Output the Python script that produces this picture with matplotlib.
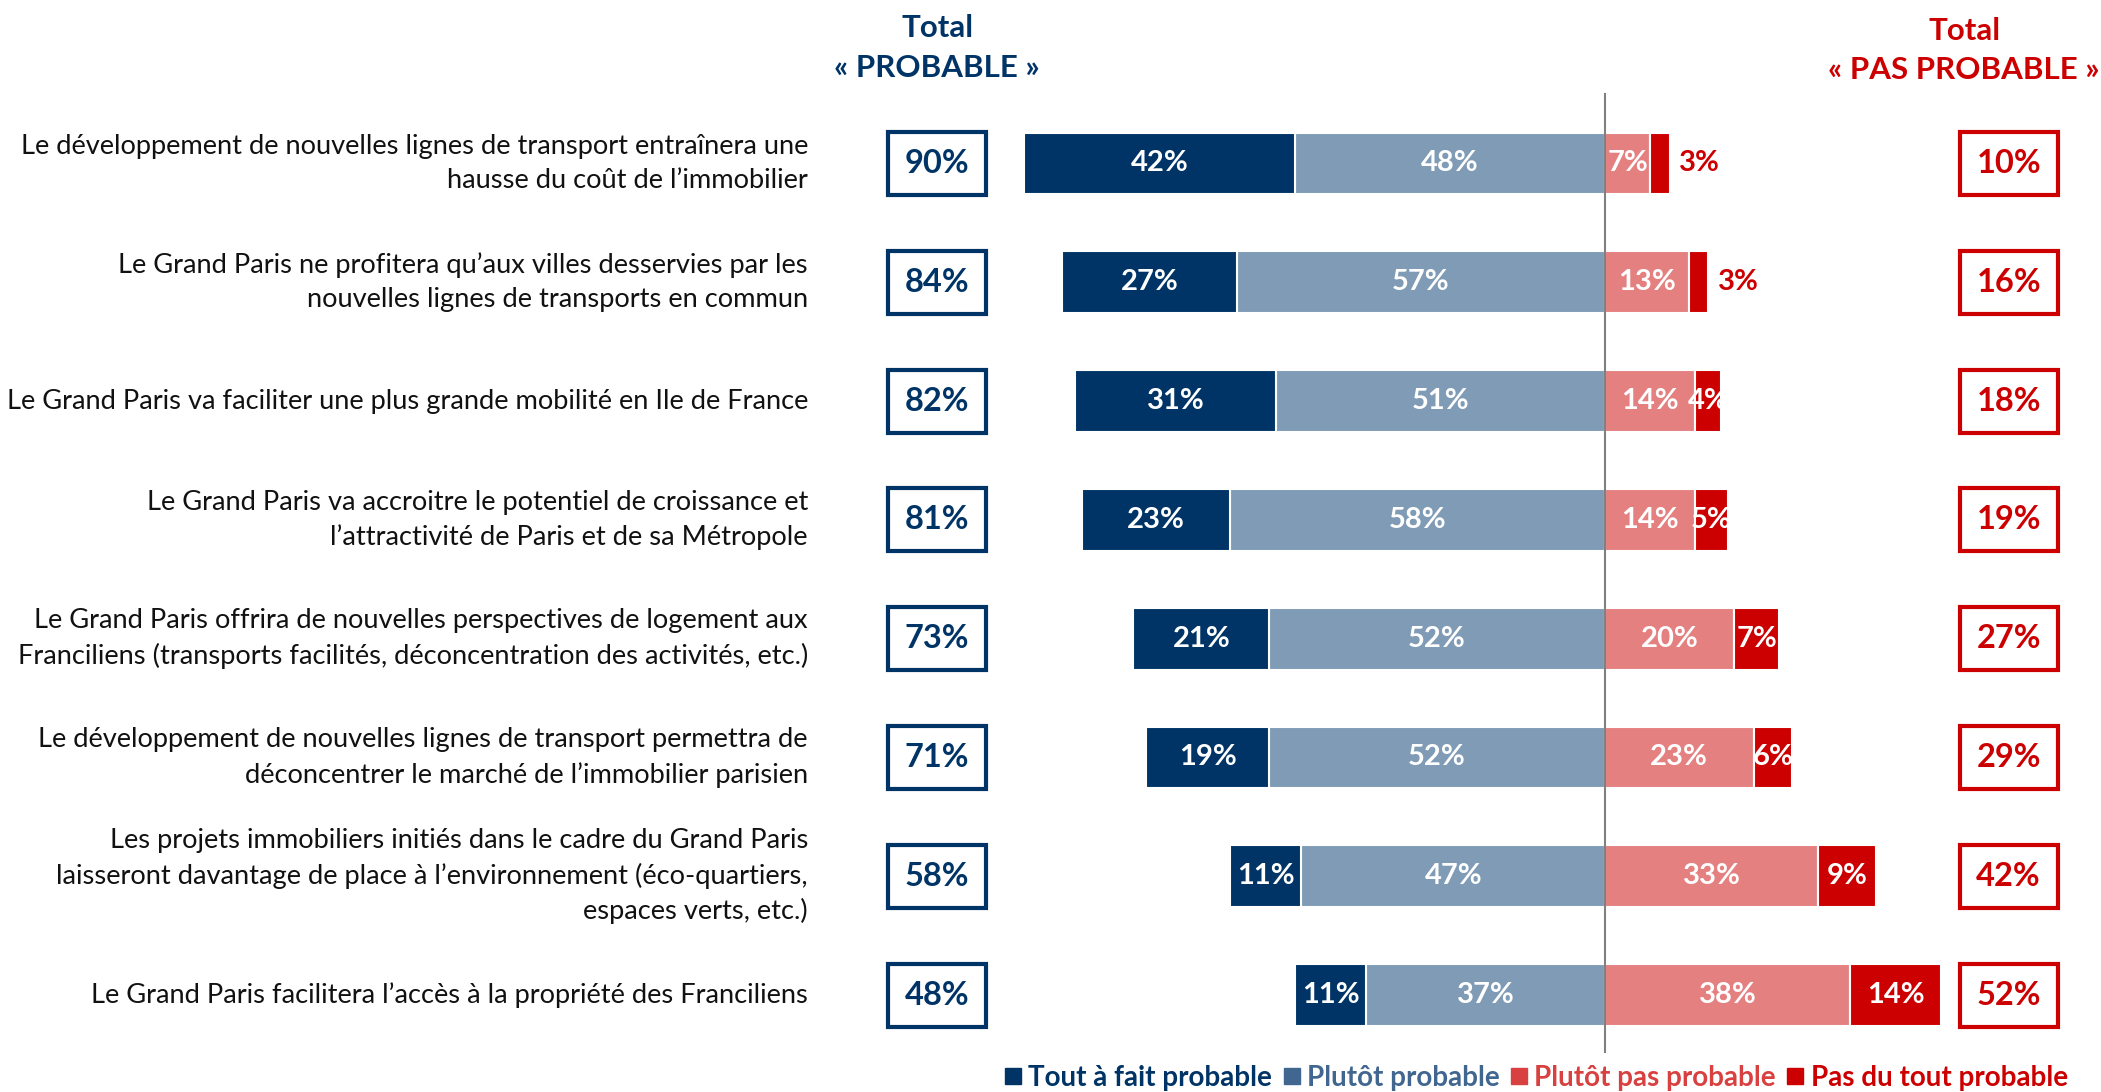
import matplotlib.pyplot as plt
from matplotlib.patches import Rectangle
from matplotlib.lines import Line2D

plt.rcParams['font.family'] = ['Lato', 'DejaVu Sans']

labels = [
    "Le développement de nouvelles lignes de transport entraînera une\nhausse du coût de l’immobilier",
    "Le Grand Paris ne profitera qu’aux villes desservies par les\nnouvelles lignes de transports en commun",
    "Le Grand Paris va faciliter une plus grande mobilité en Ile de France",
    "Le Grand Paris va accroitre le potentiel de croissance et\nl’attractivité de Paris et de sa Métropole",
    "Le Grand Paris offrira de nouvelles perspectives de logement aux\nFranciliens (transports facilités, déconcentration des activités, etc.)",
    "Le développement de nouvelles lignes de transport permettra de\ndéconcentrer le marché de l’immobilier parisien",
    "Les projets immobiliers initiés dans le cadre du Grand Paris\nlaisseront davantage de place à l’environnement (éco-quartiers,\nespaces verts, etc.)",
    "Le Grand Paris facilitera l’accès à la propriété des Franciliens",
]
tout = [42, 27, 31, 23, 21, 19, 11, 11]
plutot = [48, 57, 51, 58, 52, 52, 47, 37]
plutot_pas = [7, 13, 14, 14, 20, 23, 33, 38]
pas_du_tout = [3, 3, 4, 5, 7, 6, 9, 14]
total_prob = [90, 84, 82, 81, 73, 71, 58, 48]
total_pas = [10, 16, 18, 19, 27, 29, 42, 52]
series_names = ["Tout à fait probable", "Plutôt probable", "Plutôt pas probable", "Pas du tout probable"]

navy = '#003466'
blue = '#7f9bb5'
pink = '#e48080'
red = '#cc0000'
legend_text_colors = [navy, '#41668f', '#d94040', red]

fig = plt.figure(figsize=(21.01, 10.92), dpi=100)
ax = fig.add_axes([0, 0, 1, 1])
ax.set_xlim(-248.5, 76.8)
ax.set_ylim(7.816, -1.376)
ax.axis('off')

y = list(range(len(labels)))
h = 0.52
ax.barh(y, [-v for v in plutot], height=h, color=blue, edgecolor='white', linewidth=1.5)
ax.barh(y, [-v for v in tout], left=[-v for v in plutot], height=h, color=navy, edgecolor='white', linewidth=1.5)
ax.barh(y, plutot_pas, height=h, color=pink, edgecolor='white', linewidth=1.5)
ax.barh(y, pas_du_tout, left=plutot_pas, height=h, color=red, edgecolor='white', linewidth=1.5)

ax.plot([0, 0], [-0.585, 7.48], color='#808080', linewidth=1.5, zorder=5)

lbl = dict(ha='center', va='center', fontsize=21, fontweight='bold')
for i in y:
    ax.text(-plutot[i] - tout[i] / 2, i, f"{tout[i]}%", color='white', **lbl)
    ax.text(-plutot[i] / 2, i, f"{plutot[i]}%", color='white', **lbl)
    ax.text(plutot_pas[i] / 2, i, f"{plutot_pas[i]}%", color='white', **lbl)
    if pas_du_tout[i] <= 3:
        ax.text(plutot_pas[i] + pas_du_tout[i] + 1.5, i, f"{pas_du_tout[i]}%", color=red,
                ha='left', va='center', fontsize=21, fontweight='bold')
    else:
        ax.text(plutot_pas[i] + pas_du_tout[i] / 2, i, f"{pas_du_tout[i]}%", color='white', **lbl)

    ax.text(-123.4, i, labels[i], ha='right', va='center', fontsize=19.6, color='#111111',
            linespacing=1.45)

    # total boxes
    ax.add_patch(Rectangle((-103.4 - 7.6, i - 0.265), 15.2, 0.53, fill=False, edgecolor=navy, linewidth=3))
    ax.text(-103.4, i, f"{total_prob[i]}%", ha='center', va='center', fontsize=23.5, fontweight='bold', color=navy)
    ax.add_patch(Rectangle((62.5 - 7.6, i - 0.265), 15.2, 0.53, fill=False, edgecolor=red, linewidth=3))
    ax.text(62.5, i, f"{total_pas[i]}%", ha='center', va='center', fontsize=23.5, fontweight='bold', color=red)

ax.text(-103.4, -0.97, "Total\n« PROBABLE »", ha='center', va='center', fontsize=22.5, fontweight='bold',
        color=navy, linespacing=1.5)
ax.text(55.6, -0.95, "Total\n« PAS PROBABLE »", ha='center', va='center', fontsize=22.5, fontweight='bold',
        color=red, linespacing=1.5)

handles = [Line2D([], [], marker='s', linestyle='none', markersize=12, color=c)
           for c in [navy, '#41668f', '#d94040', red]]
leg = fig.legend(handles, series_names, loc='lower left', bbox_to_anchor=(0.465, -0.022), ncol=4,
                 frameon=False, handletextpad=0.15, columnspacing=0.3, handlelength=0.8,
                 prop={'size': 20, 'weight': 'bold'})
for t, c in zip(leg.get_texts(), legend_text_colors):
    t.set_color(c)

fig.savefig('out.png', dpi=100)
